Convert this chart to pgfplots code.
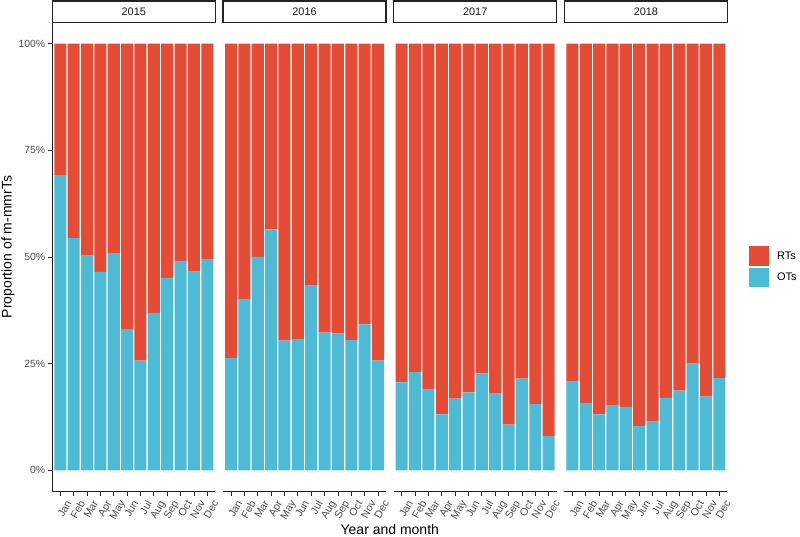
\documentclass[border=0pt]{standalone}
\usepackage{fontspec}
\setmainfont{Liberation Sans}
\usepackage{pgfplots}
\usepackage{pgfplotstable}
\pgfplotsset{compat=1.18}
\definecolor{rtred}{HTML}{E64B35}
\definecolor{otblue}{HTML}{4DBBD5}
\definecolor{tickgray}{HTML}{4D4D4D}
\definecolor{linegray}{HTML}{222222}

\pgfplotstableread{
m ot rt
1 69.2 30.8
2 54.4 45.6
3 50.3 49.7
4 46.5 53.5
5 50.9 49.1
6 33.1 66.9
7 25.7 74.3
8 36.9 63.1
9 45.1 54.9
10 49.1 50.9
11 46.6 53.4
12 49.5 50.5
}\dataA
\pgfplotstableread{
m ot rt
1 26.3 73.7
2 40.2 59.8
3 50.0 50.0
4 56.5 43.5
5 30.4 69.6
6 30.8 69.2
7 43.3 56.7
8 32.3 67.7
9 32.1 67.9
10 30.5 69.5
11 34.2 65.8
12 25.7 74.3
}\dataB
\pgfplotstableread{
m ot rt
1 20.6 79.4
2 23.0 77.0
3 19.1 80.9
4 13.1 86.9
5 16.8 83.2
6 18.3 81.7
7 22.7 77.3
8 18.0 82.0
9 10.7 89.3
10 21.5 78.5
11 15.5 84.5
12 8.0 92.0
}\dataC
\pgfplotstableread{
m ot rt
1 20.9 79.1
2 15.8 84.2
3 13.1 86.9
4 15.3 84.7
5 14.9 85.1
6 10.4 89.6
7 11.4 88.6
8 17.0 83.0
9 18.7 81.3
10 25.0 75.0
11 17.3 82.7
12 21.7 78.3
}\dataD

\pgfplotsset{
  panel/.style={
    scale only axis, width=163pt, height=469.4pt,
    anchor=south west,
    xmin=0.4, xmax=12.6, ymin=-5, ymax=105,
    ybar stacked, bar width=0.9,
    axis x line*=bottom,
    xtick={1,...,12},
    xticklabels={Jan,Feb,Mar,Apr,May,Jun,Jul,Aug,Sep,Oct,Nov,Dec},
    x tick label style={rotate=60, anchor=north east, inner sep=0pt,
      font=\fontsize{10.6}{12}\selectfont, text=tickgray, yshift=-6pt},
    y tick label style={inner sep=0pt, font=\fontsize{10.4}{12}\selectfont,
      text=tickgray, xshift=-2.5pt},
    tick align=outside, major tick length=4.5pt,
    tick style={line width=0.8pt, color=linegray},
    axis line style={line width=1.1pt, color=linegray},
    clip=false,
  },
  panelx/.style={axis y line=none, ytick=\empty},
  sq/.style={/pgfplots/legend image code/.code={\fill[##1] (0pt,-9.8pt) rectangle (19.7pt,9.8pt);}},
}

\begin{document}
\begin{tikzpicture}[x=1pt,y=1pt]
\useasboundingbox (0,0) rectangle (800,537);

\begin{axis}[panel, at={(52.3pt,45.3pt)}, axis y line*=left,
  ytick={0,25,50,75,100}, yticklabels={0\%,25\%,50\%,75\%,100\%}]
\addplot[fill=otblue, draw=none] table[x=m,y=ot]{\dataA};
\addplot[fill=rtred, draw=none] table[x=m,y=rt]{\dataA};
\end{axis}

\begin{axis}[panel, panelx, at={(223.0pt,45.3pt)}]
\addplot[fill=otblue, draw=none] table[x=m,y=ot]{\dataB};
\addplot[fill=rtred, draw=none] table[x=m,y=rt]{\dataB};
\end{axis}

\begin{axis}[panel, panelx, at={(393.7pt,45.3pt)}]
\addplot[fill=otblue, draw=none] table[x=m,y=ot]{\dataC};
\addplot[fill=rtred, draw=none] table[x=m,y=rt]{\dataC};
\end{axis}

\begin{axis}[panel, panelx, at={(564.4pt,45.3pt)},
  reverse legend,
  legend style={at={(1,0.479)}, anchor=west, xshift=22pt, draw=none, fill=none,
    inner sep=0pt, outer sep=0pt, row sep=1.6pt, column sep=8pt,
    font=\fontsize{11}{13}\selectfont, nodes={inner sep=0pt}},
  legend cell align=left]
\addplot[fill=otblue, draw=none, sq] table[x=m,y=ot]{\dataD};
\addplot[fill=rtred, draw=none, sq] table[x=m,y=rt]{\dataD};
\legend{OTs,RTs}
\end{axis}

\foreach \k/\yr in {0/2015,1/2016,2/2017,3/2018}{
  \draw[fill=white, line width=1.2pt, draw=linegray]
    ({52.3+170.7*\k},514.7) rectangle ++(163,21.3);
  \node[font=\fontsize{10.9}{13}\selectfont, text=black!90, inner sep=0pt]
    at ({52.3+170.7*\k+81.5},525.4) {\yr};
}

\node[font=\fontsize{14}{16}\selectfont, inner sep=0pt] at (389.8,7.5) {Year and month};
\node[font=\fontsize{14}{16}\selectfont, inner sep=0pt, rotate=90] at (8,290) {Proportion of m-mmrTs};
\end{tikzpicture}
\end{document}
